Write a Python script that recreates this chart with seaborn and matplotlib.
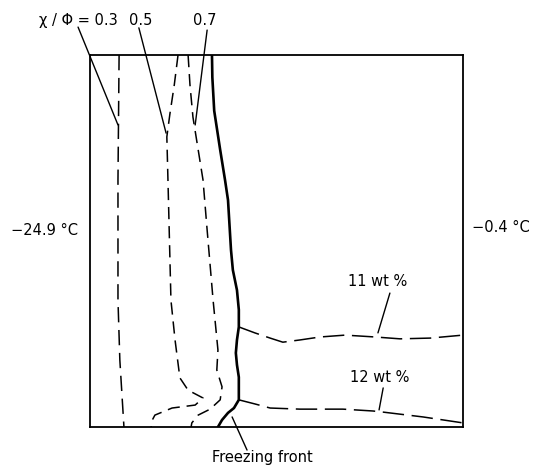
import matplotlib
matplotlib.use("Agg")
import matplotlib.pyplot as plt
import seaborn as sns
import pandas as pd

# Curves in box-relative coordinates: x = fraction across box (cold -> warm),
# depth = fraction down from top of box
ratio_03_x = [0.078, 0.075, 0.075, 0.080, 0.091]
ratio_03_y = [0.000, 0.336, 0.659, 0.820, 1.000]

ratio_05_x = [0.236, 0.226, 0.214, 0.206, 0.209, 0.217, 0.228, 0.241, 0.263, 0.303,
              0.282, 0.220, 0.174, 0.164, 0.164]
ratio_05_y = [0.000, 0.080, 0.160, 0.220, 0.336, 0.659, 0.766, 0.868, 0.901, 0.922,
              0.941, 0.949, 0.968, 0.987, 1.000]

ratio_07_x = [0.263, 0.268, 0.276, 0.303, 0.314, 0.330, 0.343, 0.340, 0.354, 0.349,
              0.322, 0.290, 0.273, 0.271]
ratio_07_y = [0.000, 0.080, 0.167, 0.336, 0.470, 0.659, 0.793, 0.847, 0.892, 0.927,
              0.952, 0.968, 0.989, 1.000]

front_x = [0.327, 0.328, 0.333, 0.349, 0.362, 0.370, 0.378, 0.383, 0.394, 0.399, 0.399,
           0.394, 0.391, 0.394, 0.399, 0.399, 0.386, 0.370, 0.354, 0.343]
front_y = [0.000, 0.060, 0.150, 0.255, 0.336, 0.390, 0.524, 0.578, 0.632, 0.685, 0.731,
           0.766, 0.801, 0.833, 0.866, 0.927, 0.949, 0.962, 0.981, 1.000]

wt11_x = [0.399, 0.442, 0.483, 0.517, 0.563, 0.617, 0.684, 0.764, 0.831, 0.912, 1.000]
wt11_y = [0.731, 0.747, 0.761, 0.772, 0.766, 0.758, 0.753, 0.758, 0.763, 0.761, 0.753]

wt12_x = [0.399, 0.442, 0.483, 0.563, 0.678, 0.759, 0.786, 0.893, 1.000]
wt12_y = [0.927, 0.938, 0.949, 0.952, 0.952, 0.957, 0.960, 0.973, 0.989]

ratio_labels = ["χ / Φ = 0.3", "0.5", "0.7"]
cold_label = "−24.9 °C"
warm_label = "−0.4 °C"
wt_labels = ["11 wt %", "12 wt %"]
front_label = "Freezing front"

sns.set_theme(style="white")
plt.rcParams['font.family'] = ['DejaVu Sans']
plt.rcParams['text.color'] = 'black'

fig = plt.figure(figsize=(5.43, 4.70), dpi=100)
ax = fig.add_axes([90 / 543, (470 - 427) / 470, 373 / 543, 372 / 470])
ax.set_xlim(0, 1)
ax.set_ylim(1, 0)
ax.set_xticks([])
ax.set_yticks([])
for s in ax.spines.values():
    s.set_color("black")
    s.set_linewidth(1.3)
    s.set_visible(True)

def curve(xs, ys, **kw):
    df = pd.DataFrame({"x": xs, "y": ys})
    sns.lineplot(data=df, x="x", y="y", sort=False, estimator=None, ax=ax,
                 color="black", **kw)

curve(ratio_03_x, ratio_03_y, linewidth=1.1, linestyle=(0, (10, 5)))
curve(ratio_05_x, ratio_05_y, linewidth=1.1, linestyle=(0, (8, 4.5)))
curve(ratio_07_x, ratio_07_y, linewidth=1.1, linestyle=(0, (8, 4.5)))
curve(front_x, front_y, linewidth=1.9)
curve(wt11_x, wt11_y, linewidth=1.1, linestyle=(0, (14, 5)))
curve(wt12_x, wt12_y, linewidth=1.1, linestyle=(0, (14, 5)))

# leader lines
leaders = [
    ([-0.032, 0.075], [-0.075, 0.188]),
    ([0.131, 0.204], [-0.073, 0.210]),
    ([0.314, 0.282], [-0.067, 0.188]),
    ([0.804, 0.772], [0.640, 0.747]),
    ([0.786, 0.775], [0.895, 0.954]),
    ([0.381, 0.421], [0.973, 1.062]),
]
for lx, ly in leaders:
    ax.plot(lx, ly, color="black", linewidth=1.0, clip_on=False)

fs = 10.5
kw = dict(fontsize=fs, color="black", va="center")
ax.text(-0.032, -0.094, ratio_labels[0], ha="center", **kw)
ax.text(0.137, -0.094, ratio_labels[1], ha="center", **kw)
ax.text(0.308, -0.094, ratio_labels[2], ha="center", **kw)
ax.text(-0.032, 0.473, cold_label, ha="right", **kw)
ax.text(1.024, 0.465, warm_label, ha="left", **kw)
ax.text(0.772, 0.610, wt_labels[0], ha="center", **kw)
ax.text(0.777, 0.866, wt_labels[1], ha="center", **kw)
ax.text(0.461, 1.083, front_label, ha="center", **kw)

ax.set_xlabel("")
ax.set_ylabel("")
fig.savefig("out.png", dpi=100)
